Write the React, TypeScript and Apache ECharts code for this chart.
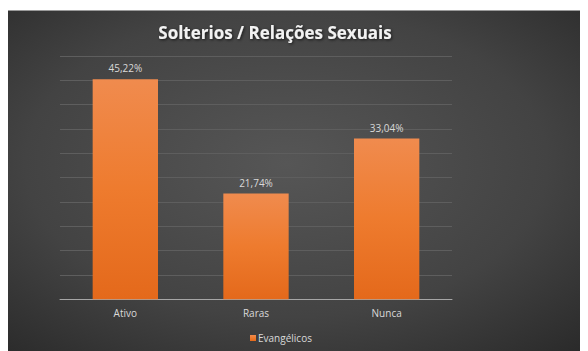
import React, { useEffect, useRef } from "react";
import * as echarts from "echarts";

const categories = ["Ativo", "Raras", "Nunca"];
const seriesName = "Evangélicos";
const values = [45.22, 21.74, 33.04];
const titleText = "Solterios / Relações Sexuais";

export default function App() {
  const ref = useRef<HTMLDivElement>(null);
  useEffect(() => {
    if (!ref.current) return;
    const chart = echarts.init(ref.current, null, { renderer: "svg" });
    const font = "'Open Sans', sans-serif";
    chart.setOption({
      animation: false,
      backgroundColor: "#ffffff",
      graphic: [
        {
          type: "rect",
          z: -100,
          silent: true,
          shape: { x: 0, y: 2, width: 580, height: 341 },
          style: {
            fill: new echarts.graphic.RadialGradient(0.48, 0.45, 0.75, [
              { offset: 0, color: "#565656" },
              { offset: 0.6, color: "#434343" },
              { offset: 1, color: "#2a2a2a" },
            ]),
            lineWidth: 0,
          },
        },
        {
          type: "line",
          z: -99,
          silent: true,
          shape: { x1: 0, y1: 2.5, x2: 580, y2: 2.5 },
          style: { stroke: "#9a9a9a", lineWidth: 1 },
        },
      ],
      title: {
        text: titleText,
        left: 262,
        top: 11,
        textAlign: "center",
        textStyle: {
          color: "#f2f2f2",
          fontFamily: font,
          fontWeight: "bold",
          fontSize: 17,
          textShadowColor: "rgba(0,0,0,0.7)",
          textShadowBlur: 3,
          textShadowOffsetX: 1,
          textShadowOffsetY: 1,
        },
      },
      legend: {
        data: [seriesName],
        left: 237,
        top: 320,
        itemWidth: 6,
        itemHeight: 6,
        itemGap: 4,
        icon: "rect",
        textStyle: { color: "#d9d9d9", fontFamily: font, fontSize: 10, padding: [0, 0, 0, -3] },
      },
      grid: { left: 52, right: 136, top: 48, bottom: 51.7, containLabel: false },
      xAxis: {
        type: "category",
        data: categories,
        axisLine: { lineStyle: { color: "#a6a6a6", width: 1 } },
        axisTick: { show: false },
        axisLabel: { color: "#d9d9d9", fontFamily: font, fontSize: 10, margin: 9 },
      },
      yAxis: {
        type: "value",
        min: 0,
        max: 50,
        interval: 5,
        axisLabel: { show: false },
        axisLine: { show: false },
        axisTick: { show: false },
        splitLine: { lineStyle: { color: "#5e5e5e", width: 1 } },
      },
      series: [
        {
          name: seriesName,
          type: "bar",
          data: values,
          barWidth: "50%",
          itemStyle: {
            color: new echarts.graphic.LinearGradient(0, 0, 0, 1, [
              { offset: 0, color: "#f08b4e" },
              { offset: 0.5, color: "#ee7b2e" },
              { offset: 1, color: "#e4691b" },
            ]),
          },
          label: {
            show: true,
            position: "top",
            distance: 6,
            color: "#d9d9d9",
            fontFamily: font,
            fontSize: 10,
            formatter: (p: any) => p.value.toFixed(2).replace(".", ",") + "%",
          },
        },
      ],
    });
    return () => chart.dispose();
  }, []);
  return <div ref={ref} style={{ width: 580, height: 343 }} />;
}
